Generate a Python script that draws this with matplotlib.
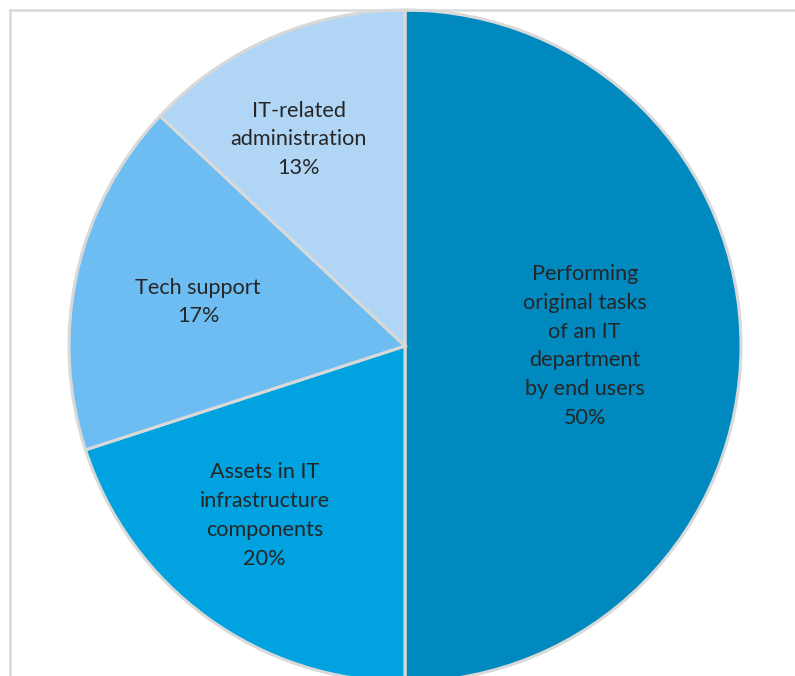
import numpy as np
import matplotlib.pyplot as plt
from matplotlib.lines import Line2D

# ── Data ──────────────────────────────────────────────────────────────────────
categories = [
    "Performing\noriginal tasks\nof an IT\ndepartment\nby end users",
    "Assets in IT\ninfrastructure\ncomponents",
    "Tech support",
    "IT-related\nadministration",
]
shares = [50, 20, 17, 13]
colors = ["#0089BF", "#00A3E0", "#6DBDF2", "#B1D6F5"]

# Excel "best fit" style label placement: (distance, angle shift in degrees)
label_dist = [0.535, 0.655, 0.63, 0.691]
label_shift = [0.0, -3.6, 0.6, 3.8]

plt.rcParams["font.family"] = ["Lato", "DejaVu Sans"]

W, H = 795, 676
fig = plt.figure(figsize=(W / 100, H / 100), dpi=100)

# pie centre (405, 346) px from top-left, radius 336 px
cx, cy, r = 405, 346, 336
ax = fig.add_axes([(cx - r) / W, (H - cy - r) / H, 2 * r / W, 2 * r / H])

wedges, _ = ax.pie(
    shares,
    colors=colors,
    startangle=90,
    counterclock=False,
    radius=1,
    wedgeprops=dict(edgecolor="#D9D9D9", linewidth=2.2),
)
ax.set_xlim(-1.0, 1.0)
ax.set_ylim(-1.0, 1.0)
ax.set_aspect("auto")
ax.axis("off")
for w in wedges:
    w.set_clip_on(False)

for w, cat, val, d, s in zip(wedges, categories, shares, label_dist, label_shift):
    mid = np.deg2rad((w.theta1 + w.theta2) / 2 + s)
    ax.text(
        d * np.cos(mid),
        d * np.sin(mid),
        f"{cat}\n{val}%",
        ha="center",
        va="center",
        fontsize=15.6,
        color="#262626",
        linespacing=1.56,
    )

# chart area border (only top and left edges fall inside the image)
bx, by = 9.5 / W, 1 - 9.5 / H
fig.add_artist(Line2D([bx, 1], [by, by], transform=fig.transFigure,
                      color="#D9D9D9", linewidth=1.8))
fig.add_artist(Line2D([bx, bx], [0, by], transform=fig.transFigure,
                      color="#D9D9D9", linewidth=1.8))

fig.savefig("out.png", dpi=100)
plt.close(fig)
